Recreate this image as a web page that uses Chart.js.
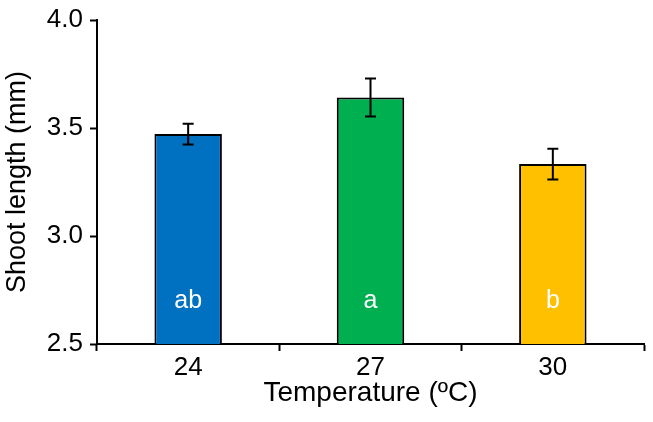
<!DOCTYPE html>
<html>
<head>
<meta charset="utf-8">
<script src="https://cdn.jsdelivr.net/npm/chart.js@4/dist/chart.umd.min.js"></script>
<style>
  html, body { margin: 0; padding: 0; background: #fff; }
  #wrap { width: 653px; height: 422px; }
</style>
</head>
<body>
<div id="wrap"><canvas id="chart"></canvas></div>
<script>
// Chart data
const temperatures = ['24', '27', '30'];
const shootLength = [3.472, 3.641, 3.333];
const shootError = [0.048, 0.088, 0.071];
const groupLetters = ['ab', 'a', 'b'];
const barColors = ['#0070C0', '#00B050', '#FFC000'];
const yTicks = [2.5, 3.0, 3.5, 4.0];

const FONT = "'Liberation Sans', Arial, sans-serif";

/**
 * Draws the error bars on top of each bar
 */
const errorBarPlugin = {
  id: 'errorBars',
  afterDatasetsDraw(chart) {
    const { ctx } = chart;
    const y = chart.scales.y;
    const meta = chart.getDatasetMeta(0);
    ctx.save();
    ctx.strokeStyle = '#000';
    ctx.lineWidth = 2;
    meta.data.forEach((bar, i) => {
      const top = y.getPixelForValue(shootLength[i] + shootError[i]);
      const bottom = y.getPixelForValue(shootLength[i] - shootError[i]);
      const cap = 5.5;
      ctx.beginPath();
      ctx.moveTo(bar.x, top);
      ctx.lineTo(bar.x, bottom);
      ctx.moveTo(bar.x - cap, top);
      ctx.lineTo(bar.x + cap, top);
      ctx.moveTo(bar.x - cap, bottom);
      ctx.lineTo(bar.x + cap, bottom);
      ctx.stroke();
    });
    ctx.restore();
  },
};

/**
 * Writes the significance letters inside the bars
 */
const letterPlugin = {
  id: 'letters',
  afterDatasetsDraw(chart) {
    const { ctx } = chart;
    const y = chart.scales.y;
    const meta = chart.getDatasetMeta(0);
    ctx.save();
    ctx.fillStyle = '#fff';
    ctx.font = `25px ${FONT}`;
    ctx.textAlign = 'center';
    ctx.textBaseline = 'middle';
    meta.data.forEach((bar, i) => {
      ctx.fillText(groupLetters[i], bar.x, y.getPixelForValue(2.7));
    });
    ctx.restore();
  },
};

const canvas = document.getElementById('chart');
const chart = new Chart(canvas.getContext('2d'), {
  type: 'bar',
  data: {
    labels: temperatures,
    datasets: [{
      data: shootLength,
      backgroundColor: barColors,
      borderColor: '#000',
      borderWidth: 2,
      borderSkipped: false,
      barPercentage: 0.37,
      categoryPercentage: 1.0,
    }],
  },
  options: {
    responsive: true,
    maintainAspectRatio: false,
    animation: false,
    layout: { padding: { top: 20, right: 9, bottom: 0, left: 0 } },
    plugins: {
      legend: { display: false },
      tooltip: { enabled: false },
    },
    scales: {
      x: {
        grid: {
          offset: true,
          drawOnChartArea: false,
          drawTicks: true,
          tickLength: 7,
          tickWidth: 2,
          tickColor: '#000',
        },
        border: { display: true, color: '#000', width: 2 },
        ticks: {
          color: '#000',
          font: { family: FONT, size: 26 },
          padding: 1,
        },
        title: {
          display: true,
          text: 'Temperature (ºC)',
          color: '#000',
          font: { family: FONT, size: 28 },
          padding: { top: 0, bottom: 12 },
        },
        afterFit(scale) { scale.height = 78; },
      },
      y: {
        min: 2.5,
        max: 4.0,
        afterBuildTicks(scale) {
          scale.ticks = yTicks.map((v) => ({ value: v }));
        },
        grid: {
          drawOnChartArea: false,
          drawTicks: true,
          tickLength: 7,
          tickWidth: 2,
          tickColor: '#000',
        },
        border: { display: true, color: '#000', width: 2 },
        ticks: {
          color: '#000',
          font: { family: FONT, size: 26 },
          padding: 7,
          callback: (v) => Number(v).toFixed(1),
        },
        title: {
          display: true,
          text: 'Shoot length (mm)',
          color: '#000',
          font: { family: FONT, size: 27 },
          padding: { top: 1, bottom: 6 },
        },
        afterFit(scale) {
          scale.width = 97;
          // keep the label overflow from pushing the plot area down
          scale.paddingTop = 0;
          scale.paddingBottom = 0;
        },
      },
    },
  },
  plugins: [errorBarPlugin, letterPlugin],
});
</script>
</body>
</html>
